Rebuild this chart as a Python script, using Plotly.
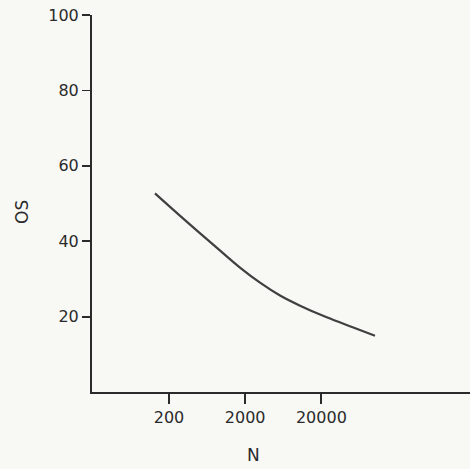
import plotly.graph_objects as go

# Data
n_values = [131, 308, 845, 1710, 3130, 5730, 10500, 23500, 52500, 101000]
os_values = [52.7, 46.0, 38.3, 33.0, 29.0, 25.6, 22.9, 19.8, 17.1, 14.9]

x_tick_vals = [200, 2000, 20000]
x_tick_text = ["200", "2000", "20000"]
y_tick_vals = [20, 40, 60, 80, 100]
y_tick_text = ["20", "40", "60", "80", "100"]

ink = "#2b2b2b"
bg = "#f8f8f5"
font_family = "DejaVu Sans, sans-serif"

fig = go.Figure()
fig.add_trace(go.Scatter(
    x=n_values, y=os_values, mode="lines",
    line=dict(color="#404040", width=2.2, shape="spline", smoothing=1.0),
    hoverinfo="skip", showlegend=False,
))

fig.update_layout(
    width=470, height=469,
    margin=dict(l=92, r=0, t=15, b=77),
    paper_bgcolor=bg, plot_bgcolor=bg,
    font=dict(family=font_family, size=16, color=ink),
    showlegend=False,
    xaxis=dict(
        type="log", range=[1.291, 6.251],
        tickvals=x_tick_vals, ticktext=x_tick_text,
        ticks="outside", ticklen=10, tickwidth=1.8, tickcolor=ink,
        showline=True, linecolor=ink, linewidth=2,
        showgrid=False, zeroline=False,
        tickfont=dict(size=16, color=ink),
    ),
    yaxis=dict(
        range=[0, 100],
        tickvals=y_tick_vals, ticktext=y_tick_text,
        ticks="outside", ticklen=8, tickwidth=1.8, tickcolor=ink,
        showline=True, linecolor=ink, linewidth=2,
        showgrid=False, zeroline=False,
        tickfont=dict(size=16, color=ink),
    ),
    annotations=[
        dict(text="N", xref="paper", yref="paper", x=(253 - 92) / 378, y=-(455 - 392) / 377,
             showarrow=False, font=dict(size=17, color=ink), xanchor="center", yanchor="middle"),
        dict(text="OS", xref="paper", yref="paper", x=-(92 - 22) / 378, y=(392 - 212) / 377,
             showarrow=False, textangle=-90, font=dict(size=17, color=ink),
             xanchor="center", yanchor="middle"),
    ],
)

fig.write_html(
    "out.html",
    config={"displayModeBar": False, "staticPlot": True},
    post_script="document.body.style.margin='0';document.body.style.background='%s';" % bg,
)
